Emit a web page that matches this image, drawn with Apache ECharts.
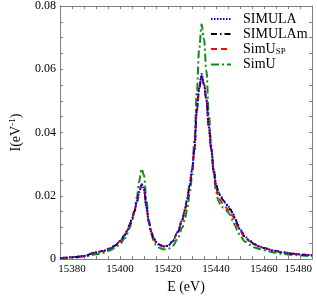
<!DOCTYPE html>
<html><head><meta charset="utf-8">
<script src="https://cdn.jsdelivr.net/npm/echarts@6/dist/echarts.min.js"></script>
<style>html,body{margin:0;padding:0;background:#fff}#c{width:317px;height:299px}</style>
</head><body><div id="c"></div>
<script>
const energy = [15375,15380,15385,15390,15393,15396,15398,15400,15402,15403,15404,15405,15406,15407,15408,15409,15410,15411,15412,15413,15414,15415,15416,15418,15420,15422,15424,15426,15427,15428,15429,15430,15431,15432,15433,15434,15435,15436,15437,15438,15439,15440,15441,15442,15443,15444,15445,15446,15447,15448,15449,15450,15452,15454,15456,15458,15460,15464,15468,15472,15476,15480];
const simula = [0.0003,0.0006,0.0010,0.0021, 0.0026,0.0034,0.0043,0.0057, 0.0076,0.0090,0.0108,0.0128,0.0150,0.0180,0.0212,0.0237,0.0222,0.0165,0.0118,0.0087,0.0067,0.0054,0.0047, 0.0040,0.0042,0.0057,0.0085,0.0125, 0.0155,0.0190,0.0232,0.0280,0.0345,0.0470,0.0540,0.0585,0.0555,0.0505,0.0420,0.0350,0.0285,0.0238,0.0212,0.0197,0.0186,0.0177,0.0168,0.0157,0.0145,0.0128,0.0110,0.0094, 0.0072,0.0058,0.0047,0.0040,0.0035, 0.0027,0.0021,0.0017,0.0014,0.0012];
const simulaM = [0.0003,0.0006,0.0010,0.0021, 0.0026,0.0034,0.0043,0.0057, 0.0076,0.0090,0.0108,0.0128,0.0150,0.0180,0.0212,0.0236,0.0222,0.0165,0.0118,0.0087,0.0067,0.0054,0.0047, 0.0040,0.0042,0.0057,0.0085,0.0125, 0.0155,0.0190,0.0232,0.0280,0.0345,0.0470,0.0538,0.0578,0.0550,0.0503,0.0420,0.0350,0.0285,0.0238,0.0212,0.0197,0.0186,0.0177,0.0168,0.0157,0.0145,0.0128,0.0110,0.0094, 0.0072,0.0058,0.0047,0.0040,0.0035, 0.0027,0.0021,0.0017,0.0014,0.0012];
const simUSP = [0.0003,0.0006,0.0010,0.0021, 0.0026,0.0034,0.0043,0.0057, 0.0076,0.0090,0.0108,0.0128,0.0150,0.0180,0.0212,0.0234,0.0220,0.0165,0.0118,0.0087,0.0067,0.0054,0.0047, 0.0040,0.0042,0.0057,0.0085,0.0125, 0.0155,0.0190,0.0232,0.0280,0.0345,0.0470,0.0540,0.0580,0.0552,0.0503,0.0418,0.0348,0.0280,0.0228,0.0198,0.0183,0.0173,0.0165,0.0157,0.0147,0.0135,0.0119,0.0103,0.0089, 0.0069,0.0056,0.0046,0.0040,0.0035, 0.0027,0.0021,0.0017,0.0014,0.0012];
const simU = [0.0002,0.0004,0.0008,0.0015, 0.0020,0.0028,0.0036,0.0048, 0.0066,0.0080,0.0098,0.0122,0.0152,0.0195,0.0245,0.0285,0.0265,0.0185,0.0120,0.0080,0.0058,0.0045,0.0037, 0.0031,0.0032,0.0042,0.0064,0.0100, 0.0126,0.0158,0.0205,0.0260,0.0375,0.0525,0.0665,0.0742,0.0695,0.0595,0.0460,0.0360,0.0272,0.0215,0.0184,0.0170,0.0162,0.0156,0.0149,0.0138,0.0122,0.0104,0.0088,0.0074, 0.0056,0.0045,0.0037,0.0032,0.0028, 0.0021,0.0016,0.0013,0.0011,0.0009];
const seriesNames = ['SIMULA','SIMULAm','SimUSP','SimU'];
const yTickLabels = ['0','0.02','0.04','0.06','0.08'];

const FONT = '"Liberation Serif", "DejaVu Serif", serif';
const pairs = arr => energy.map((e,i)=>[e, arr[i]]);
const axisColor = '#7f7f7f';

const chart = echarts.init(document.getElementById('c'), null, {renderer:'canvas'});
const baseX = {
  type:'value', min:15375, max:15480, interval:5,
  axisLine:{show:true, onZero:false, lineStyle:{color:axisColor, width:1}},
  axisTick:{show:true, inside:true, length:3, lineStyle:{color:axisColor}},
  splitLine:{show:false}
};
const baseY = {
  type:'value', min:0, max:0.08, interval:0.005,
  axisLine:{show:true, onZero:false, lineStyle:{color:axisColor, width:1}},
  axisTick:{show:true, inside:true, length:3, lineStyle:{color:axisColor}},
  splitLine:{show:false}
};
const lineCommon = {type:'line', showSymbol:false, symbol:'none', smooth:0.35, smoothMonotone:'x'};
chart.setOption({
  animation:false,
  backgroundColor:'#fff',
  grid:{left:49, right:5, top:5, bottom:32, containLabel:false},
  xAxis:[
    Object.assign({}, baseX, {
      position:'bottom',
      name:'E (eV)', nameLocation:'middle', nameGap:18,
      nameTextStyle:{fontFamily:FONT, fontSize:14, color:'#000'},
      axisLabel:{show:true, fontFamily:FONT, fontSize:11, color:'#000', margin:5,
        alignMaxLabel:'right',
        formatter: v => (Math.round(v) % 20 === 0 ? String(Math.round(v)) : '')}
    }),
    Object.assign({}, baseX, {position:'top', axisLabel:{show:false}})
  ],
  yAxis:[
    Object.assign({}, baseY, {
      position:'left',
      name:'{a|I(eV}{s|-1}{a|)}', nameLocation:'middle', nameGap:36, nameRotate:90,
      nameTextStyle:{fontFamily:FONT, fontSize:14, color:'#000',
        rich:{a:{fontFamily:FONT, fontSize:14, color:'#000'},
              s:{fontFamily:FONT, fontSize:9, color:'#000', padding:[0,0,7,0]}}},
      axisLabel:{show:true, fontFamily:FONT, fontSize:12, color:'#000', margin:4,
        formatter: v => {
          const k = Math.round(v*1000);
          if (k % 20 !== 0) return '';
          return yTickLabels[k/20];
        }}
    }),
    Object.assign({}, baseY, {position:'right', axisLabel:{show:false}})
  ],
  legend:{
    orient:'vertical', left:205, top:7, itemWidth:20, itemHeight:14, itemGap:1,
    data:seriesNames,
    itemStyle:{opacity:0},
    textStyle:{fontFamily:FONT, fontSize:14, color:'#000', padding:[0,0,0,7],
      rich:{a:{fontFamily:FONT, fontSize:14, color:'#000'},
            b:{fontFamily:FONT, fontSize:9, color:'#000', padding:[6,0,0,0]}}},
    formatter: n => n === 'SimUSP' ? '{a|SimU}{b|SP}' : n
  },
  series:[
    Object.assign({}, lineCommon, {name:'SimU', data:pairs(simU),
      lineStyle:{color:'#118a11', width:2, type:[8,3,2,3]}, itemStyle:{color:'#118a11'}}),
    Object.assign({}, lineCommon, {name:'SIMULAm', data:pairs(simulaM),
      lineStyle:{color:'#000', width:1.8, type:[6,3,1.5,3]}, itemStyle:{color:'#000'}}),
    Object.assign({}, lineCommon, {name:'SimUSP', data:pairs(simUSP),
      lineStyle:{color:'#ff0000', width:1.8, type:[6,4]}, itemStyle:{color:'#ff0000'}}),
    Object.assign({}, lineCommon, {name:'SIMULA', data:pairs(simula),
      lineStyle:{color:'#0000ff', width:2, type:[1.5,1.5]}, itemStyle:{color:'#0000ff'}})
  ]
});
</script>
</body></html>
